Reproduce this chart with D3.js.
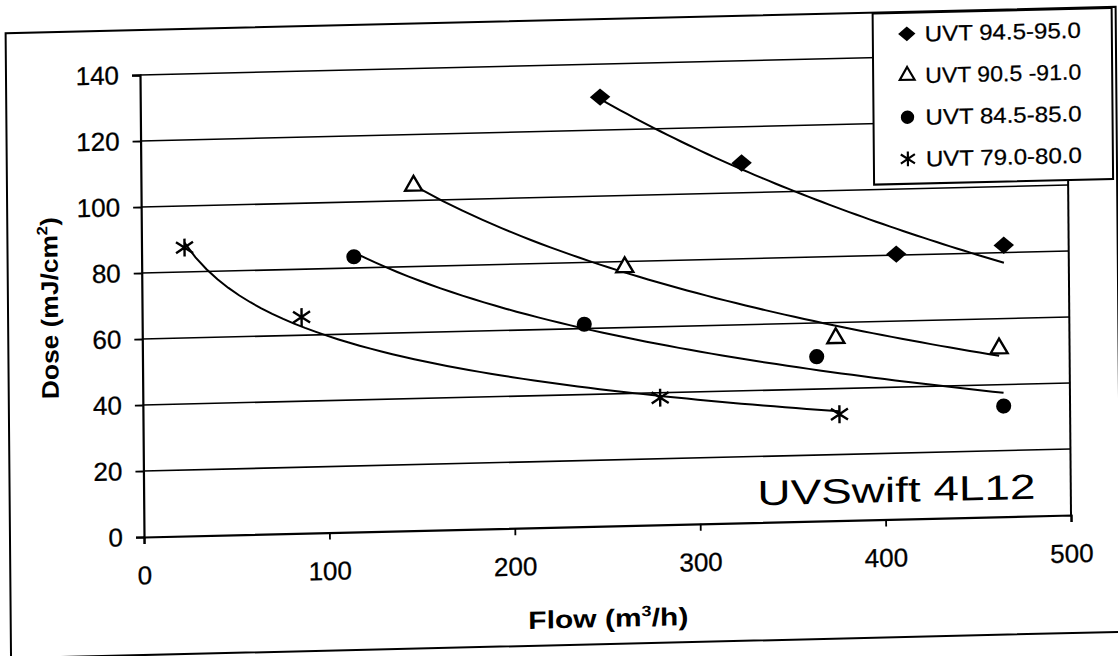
<!DOCTYPE html>
<html><head><meta charset="utf-8">
<script src="https://cdn.jsdelivr.net/npm/d3@7"></script>
<style>
html,body{margin:0;padding:0;background:#fff;}
svg{display:block;}
text{font-family:"Liberation Sans",Arial,sans-serif;fill:#000;}
</style></head>
<body>
<svg id="chart" width="1118" height="656"></svg>
<script>
// ---- data ----
const seriesNames = ["UVT 94.5-95.0", "UVT 90.5 -91.0", "UVT 84.5-85.0", "UVT 79.0-80.0"];
const flowA = [248, 324, 407, 465];
const doseA = [130, 109, 80.3, 82.2];
const flowB = [147, 260.5, 374, 462];
const doseB = [104.5, 78.3, 55.3, 51];
const flowC = [114.5, 238.4, 363.6, 464.2];
const doseC = [83.4, 61.3, 49.8, 33.5];
const flowD = [23.2, 86, 279, 375.6];
const doseD = [87.4, 65.5, 38.5, 32.2];
const xTicks = [0, 100, 200, 300, 400, 500];
const yTicks = [0, 20, 40, 60, 80, 100, 120, 140];
const chartLabel = "UVSwift 4L12";

// ---- layout ----
const W = 927, H = 462;
const svg = d3.select("#chart");
// scanned page is slightly skewed: apply the same affine to everything
const root = svg.append("g").attr("transform", "matrix(1,-0.0237,0.00866,1,140,75)");

const x = d3.scaleLinear().domain([0, 500]).range([0, W]);
const y = d3.scaleLinear().domain([0, 140]).range([H, 0]);

// outer frame
root.append("rect").attr("x", -134).attr("y", -45).attr("width", 1110).attr("height", 625)
  .attr("fill", "none").attr("stroke", "#000").attr("stroke-width", 2);

// gridlines
root.append("g").selectAll("line").data(yTicks.filter(d => d > 0)).join("line")
  .attr("x1", 0).attr("x2", W).attr("y1", d => y(d)).attr("y2", d => y(d))
  .attr("stroke", "#000").attr("stroke-width", 1.6);
// right border of plot area
root.append("line").attr("x1", W).attr("x2", W).attr("y1", 0).attr("y2", H)
  .attr("stroke", "#000").attr("stroke-width", 2);

// axes
const yAxis = root.append("g").call(d3.axisLeft(y).tickValues(yTicks).tickSize(8).tickPadding(13).tickFormat(d3.format("d")));
const xAxis = root.append("g").attr("transform", `translate(0,${H})`)
  .call(d3.axisBottom(x).tickValues(xTicks).tickSize(7).tickPadding(22).tickFormat(d3.format("d")));
[yAxis, xAxis].forEach(a => {
  a.select(".domain").attr("stroke", "#000").attr("stroke-width", 2.2);
  a.selectAll(".tick line").attr("stroke", "#000").attr("stroke-width", 1.8);
  a.selectAll(".tick text").style("font-size", "26px").style("font-family", '"Liberation Sans",Arial,sans-serif')
    .attr("fill", "#000").attr("stroke", "#000").attr("stroke-width", 0.3);
});

// axis titles
const yt = root.append("text").attr("transform", `translate(-84,${H / 2}) rotate(-90)`)
  .attr("text-anchor", "middle").style("font-size", "24px").style("font-weight", "bold")
  .attr("textLength", 182).attr("lengthAdjust", "spacingAndGlyphs");
yt.append("tspan").text("Dose (mJ/cm");
yt.append("tspan").text("2").attr("dy", -10).style("font-size", "15px");
yt.append("tspan").text(")").attr("dy", 10);

const xt = root.append("text").attr("x", W / 2).attr("y", 563)
  .attr("text-anchor", "middle").style("font-size", "25px").style("font-weight", "bold")
  .attr("textLength", 160).attr("lengthAdjust", "spacingAndGlyphs");
xt.append("tspan").text("Flow (m");
xt.append("tspan").text("3").attr("dy", -10).style("font-size", "15px");
xt.append("tspan").text("/h)").attr("dy", 10);

// chart label
root.append("text").attr("x", x(331)).attr("y", y(5.2)).style("font-size", "35px")
  .attr("textLength", 278).attr("lengthAdjust", "spacingAndGlyphs").text(chartLabel);

// ---- symbols ----
const diamondType = { draw(ctx, size) { const r = Math.sqrt(size / 2); ctx.moveTo(0, -r * 0.85); ctx.lineTo(r, 0); ctx.lineTo(0, r * 0.85); ctx.lineTo(-r, 0); ctx.closePath(); } };
const starType = { draw(ctx, size) { const r = Math.sqrt(size) / 2;
  ctx.moveTo(0, -r); ctx.lineTo(0, r);
  ctx.moveTo(-r * 0.95, -r * 0.62); ctx.lineTo(r * 0.95, r * 0.62);
  ctx.moveTo(-r * 0.95, r * 0.62); ctx.lineTo(r * 0.95, -r * 0.62); } };

const series = [
  { name: seriesNames[0], fx: flowA, dy: doseA, type: diamondType, size: 210, fill: "#000", stroke: "none", sw: 0, lsize: 150 },
  { name: seriesNames[1], fx: flowB, dy: doseB, type: d3.symbolTriangle, size: 125, fill: "#fff", stroke: "#000", sw: 2.4, lsize: 95 },
  { name: seriesNames[2], fx: flowC, dy: doseC, type: d3.symbolCircle, size: 180, fill: "#000", stroke: "none", sw: 0, lsize: 140 },
  { name: seriesNames[3], fx: flowD, dy: doseD, type: starType, size: 320, fill: "none", stroke: "#000", sw: 2.4, lsize: 220 }
];

// logarithmic trendlines (least-squares fit of y on ln x), drawn across each series' flow range
const line = d3.line().x(d => x(d[0])).y(d => y(d[1]));
series.forEach(s => {
  const lx = s.fx.map(Math.log);
  const mx = d3.mean(lx), my = d3.mean(s.dy);
  const b = d3.sum(lx, (v, i) => (v - mx) * (s.dy[i] - my)) / d3.sum(lx, v => (v - mx) ** 2);
  const a = my - b * mx;
  const [x0, x1] = d3.extent(s.fx);
  const pts = d3.range(0, 61).map(i => { const xv = x0 + (x1 - x0) * i / 60; return [xv, a + b * Math.log(xv)]; });
  root.append("path").datum(pts).attr("d", line).attr("fill", "none").attr("stroke", "#000").attr("stroke-width", 2);
});

// markers
series.forEach(s => {
  const sym = d3.symbol().type(s.type).size(s.size);
  root.append("g").selectAll("path").data(s.fx.map((f, i) => [f, s.dy[i]])).join("path")
    .attr("transform", d => `translate(${x(d[0])},${y(d[1])})`)
    .attr("d", sym).attr("fill", s.fill).attr("stroke", s.stroke).attr("stroke-width", s.sw);
});

// legend
const lg = root.append("g").attr("transform", "translate(733,-44)");
lg.append("rect").attr("width", 239).attr("height", 171).attr("fill", "#fff").attr("stroke", "#000").attr("stroke-width", 2);
series.forEach((s, i) => {
  const yy = 21 + i * 41.7;
  lg.append("path").attr("transform", `translate(34,${yy})`).attr("d", d3.symbol().type(s.type).size(s.lsize))
    .attr("fill", s.fill).attr("stroke", s.stroke).attr("stroke-width", s.sw * 0.9);
  lg.append("text").attr("x", 52).attr("y", yy + 8).style("font-size", "22px")
    .attr("stroke", "#000").attr("stroke-width", 0.25)
    .attr("textLength", 156).attr("lengthAdjust", "spacingAndGlyphs").text(s.name);
});
</script>
</body></html>
